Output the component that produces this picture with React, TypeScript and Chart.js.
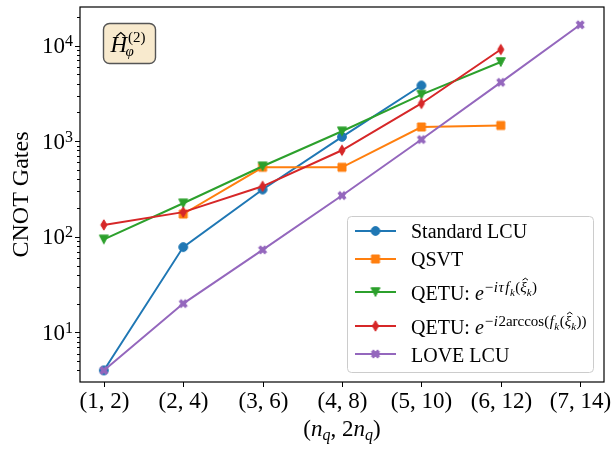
import React, { useEffect, useRef } from "react";
import { Chart, registerables } from "chart.js";

Chart.register(...registerables);

// ---------------- data ----------------
const xValues = [1, 2, 3, 4, 5, 6, 7];
const xTickLabels = ["(1, 2)", "(2, 4)", "(3, 6)", "(4, 8)", "(5, 10)", "(6, 12)", "(7, 14)"];
const yTickExponents = [1, 2, 3, 4];

const standardLCU = [4, 78, 312, 1110, 3820, null, null];
const qsvt = [null, 173, 533, 533, 1406, 1459, null];
const qetuTau = [94, 224, 546, 1268, 3062, 6730, null];
const qetuArccos = [133, 181, 337, 803, 2478, 9080, null];
const loveLCU = [4, 20, 73, 270, 1040, 4120, 16480];

const seriesLabels = [
  "Standard LCU",
  "QSVT",
  "QETU: e^{-iτ f_k(ξ̂_k)}",
  "QETU: e^{-i2arccos(f_k(ξ̂_k))}",
  "LOVE LCU",
];
const seriesColors = ["#1f77b4", "#ff7f0e", "#2ca02c", "#d62728", "#9467bd"];
const seriesMarkers = ["circle", "square", "triangleDown", "thinDiamond", "xFilled"];
const seriesValues = [standardLCU, qsvt, qetuTau, qetuArccos, loveLCU];

const FONT = '"Liberation Serif", "DejaVu Serif", serif';

type Seg = { t: string; s: number; it?: boolean; dy?: number; hat?: boolean; gap?: number };

function drawRich(ctx: CanvasRenderingContext2D, x: number, y: number, segs: Seg[]) {
  let cx = x;
  for (const g of segs) {
    cx += g.gap || 0;
    ctx.font = `${g.it ? "italic " : ""}${g.s}px ${FONT}`;
    const w = ctx.measureText(g.t).width;
    const by = y + (g.dy || 0);
    ctx.fillText(g.t, cx, by);
    if (g.hat) {
      const hx = cx + w / 2 + g.s * 0.12;
      const top = by - g.s * 0.92;
      ctx.beginPath();
      ctx.moveTo(hx - g.s * 0.18, top + g.s * 0.13);
      ctx.lineTo(hx, top);
      ctx.lineTo(hx + g.s * 0.18, top + g.s * 0.13);
      ctx.lineWidth = Math.max(0.8, g.s * 0.065);
      ctx.stroke();
    }
    cx += w;
  }
  return cx;
}

function makeMarker(kind: string, color: string): HTMLCanvasElement {
  const c = document.createElement("canvas");
  c.width = 16;
  c.height = 16;
  const g = c.getContext("2d")!;
  g.translate(8, 8);
  g.fillStyle = color;
  g.strokeStyle = color;
  g.lineWidth = 1;
  g.lineJoin = "miter";
  g.beginPath();
  if (kind === "circle") {
    g.arc(0, 0, 4.4, 0, Math.PI * 2);
  } else if (kind === "square") {
    g.rect(-4, -4, 8, 8);
  } else if (kind === "triangleDown") {
    g.moveTo(-4.5, -4.2);
    g.lineTo(4.5, -4.2);
    g.lineTo(0, 4.5);
    g.closePath();
  } else if (kind === "thinDiamond") {
    g.moveTo(0, -5.2);
    g.lineTo(3.1, 0);
    g.lineTo(0, 5.2);
    g.lineTo(-3.1, 0);
    g.closePath();
  } else {
    const s = 8.8;
    const pts = [
      [-1, -3], [1, -3], [1, -1], [3, -1], [3, 1], [1, 1],
      [1, 3], [-1, 3], [-1, 1], [-3, 1], [-3, -1], [-1, -1],
    ];
    const a = Math.PI / 4;
    pts.forEach(([px, py], i) => {
      const ux = (px / 6) * s;
      const uy = (py / 6) * s;
      const rx = ux * Math.cos(a) - uy * Math.sin(a);
      const ry = ux * Math.sin(a) + uy * Math.cos(a);
      if (i === 0) g.moveTo(rx, ry);
      else g.lineTo(rx, ry);
    });
    g.closePath();
  }
  g.fill();
  g.stroke();
  return c;
}

const SUP = 15;
const SUB = 11;
const legendRich: Seg[][] = [
  [{ t: "Standard LCU", s: 20 }],
  [{ t: "QSVT", s: 20 }],
  [
    { t: "QETU: ", s: 20 },
    { t: "e", s: 20, it: true },
    { t: "−", s: SUP, dy: -8, gap: 1 },
    { t: "i", s: SUP, it: true, dy: -8, gap: 0.5 },
    { t: "τ", s: SUP, it: true, dy: -8, gap: 0.5 },
    { t: "f", s: SUP, it: true, dy: -8, gap: 1.5 },
    { t: "k", s: SUB, it: true, dy: -4.5, gap: 0.5 },
    { t: "(", s: SUP, dy: -8, gap: 0.5 },
    { t: "ξ", s: SUP, it: true, dy: -8, hat: true },
    { t: "k", s: SUB, it: true, dy: -4.5 },
    { t: ")", s: SUP, dy: -8, gap: 0.5 },
  ],
  [
    { t: "QETU: ", s: 20 },
    { t: "e", s: 20, it: true },
    { t: "−", s: SUP, dy: -8, gap: 1 },
    { t: "i", s: SUP, it: true, dy: -8, gap: 0.5 },
    { t: "2arccos(", s: SUP, dy: -8, gap: 0.5 },
    { t: "f", s: SUP, it: true, dy: -8, gap: 0.5 },
    { t: "k", s: SUB, it: true, dy: -4.5, gap: 0.5 },
    { t: "(", s: SUP, dy: -8, gap: 0.5 },
    { t: "ξ", s: SUP, it: true, dy: -8, hat: true },
    { t: "k", s: SUB, it: true, dy: -4.5 },
    { t: "))", s: SUP, dy: -8, gap: 0.5 },
  ],
  [{ t: "LOVE LCU", s: 20 }],
];

export default function App() {
  const ref = useRef<HTMLCanvasElement | null>(null);

  useEffect(() => {
    const canvas = ref.current;
    if (!canvas) return;
    const markers = seriesMarkers.map((m, i) => makeMarker(m, seriesColors[i]));

    const datasets = seriesValues.map((vals, i) => ({
      label: seriesLabels[i],
      data: vals
        .map((v, j) => (v == null ? null : { x: xValues[j], y: v }))
        .filter((p) => p !== null) as { x: number; y: number }[],
      borderColor: seriesColors[i],
      backgroundColor: seriesColors[i],
      borderWidth: 2,
      pointStyle: markers[i] as any,
      pointRadius: 5,
      pointHoverRadius: 5,
      tension: 0,
      order: seriesValues.length - 1 - i,
    }));

    const decor = {
      id: "decor",
      afterDraw(chart: any) {
        const ctx: CanvasRenderingContext2D = chart.ctx;
        const area = chart.chartArea;
        const xs = chart.scales.x;
        const ys = chart.scales.y;
        ctx.save();
        ctx.fillStyle = "#000";
        ctx.strokeStyle = "#000";

        // frame
        ctx.lineWidth = 1.2;
        ctx.strokeRect(area.left, area.top, area.right - area.left, area.bottom - area.top);

        // y ticks
        ctx.lineWidth = 1;
        const yMinExp = Math.floor(Math.log10(ys.min));
        const yMaxExp = Math.ceil(Math.log10(ys.max));
        for (let e = yMinExp; e <= yMaxExp; e++) {
          for (let k = 1; k <= 9; k++) {
            const v = k * Math.pow(10, e);
            if (v < ys.min || v > ys.max) continue;
            const py = Math.round(ys.getPixelForValue(v)) + 0.5;
            const len = k === 1 ? 5 : 3;
            ctx.beginPath();
            ctx.moveTo(area.left - len, py);
            ctx.lineTo(area.left, py);
            ctx.stroke();
          }
        }
        // y labels
        for (const e of yTickExponents) {
          const py = ys.getPixelForValue(Math.pow(10, e));
          ctx.font = `23px ${FONT}`;
          const w1 = ctx.measureText("10").width;
          ctx.font = `16px ${FONT}`;
          const w2 = ctx.measureText(String(e)).width;
          const right = area.left - 7;
          ctx.textAlign = "left";
          ctx.textBaseline = "alphabetic";
          ctx.font = `23px ${FONT}`;
          ctx.fillText("10", right - w1 - w2, py + 7.5);
          ctx.font = `16px ${FONT}`;
          ctx.fillText(String(e), right - w2, py + 0.5);
        }

        // x ticks + labels
        ctx.textAlign = "center";
        ctx.font = `23px ${FONT}`;
        xValues.forEach((xv, i) => {
          const px = Math.round(xs.getPixelForValue(xv)) + 0.5;
          ctx.beginPath();
          ctx.moveTo(px, area.bottom);
          ctx.lineTo(px, area.bottom + 5);
          ctx.stroke();
          ctx.fillText(xTickLabels[i], px, area.bottom + 26);
        });

        // x axis title: (n_q, 2n_q)
        {
          const segs: Seg[] = [
            { t: "(", s: 23 },
            { t: "n", s: 23, it: true },
            { t: "q", s: 16, it: true, dy: 4 },
            { t: ", 2", s: 23 },
            { t: "n", s: 23, it: true },
            { t: "q", s: 16, it: true, dy: 4 },
            { t: ")", s: 23 },
          ];
          ctx.textAlign = "left";
          let w = 0;
          for (const g of segs) {
            ctx.font = `${g.it ? "italic " : ""}${g.s}px ${FONT}`;
            w += ctx.measureText(g.t).width;
          }
          const cx = (area.left + area.right) / 2;
          drawRich(ctx, cx - w / 2, area.bottom + 54, segs);
        }

        // y axis title
        ctx.save();
        ctx.translate(22, (area.top + area.bottom) / 2);
        ctx.rotate(-Math.PI / 2);
        ctx.textAlign = "center";
        ctx.textBaseline = "middle";
        ctx.font = `24px ${FONT}`;
        ctx.fillText("CNOT Gates", 0, 0);
        ctx.restore();

        // annotation box
        ctx.beginPath();
        (ctx as any).roundRect(103.5, 23.5, 52, 40, 6);
        ctx.fillStyle = "rgba(245,222,179,0.65)";
        ctx.fill();
        ctx.lineWidth = 1.4;
        ctx.strokeStyle = "#555";
        ctx.stroke();
        ctx.fillStyle = "#000";
        ctx.strokeStyle = "#000";
        ctx.textAlign = "left";
        ctx.textBaseline = "alphabetic";
        {
          ctx.font = `italic 23px ${FONT}`;
          const hx = 110.5;
          const hw = ctx.measureText("H").width;
          ctx.fillText("H", hx, 52);
          const cxh = hx + hw / 2 + 2;
          ctx.beginPath();
          ctx.moveTo(cxh - 4.5, 36.5);
          ctx.lineTo(cxh, 32.5);
          ctx.lineTo(cxh + 4.5, 36.5);
          ctx.lineWidth = 1.2;
          ctx.stroke();
          ctx.font = `italic 15px ${FONT}`;
          ctx.fillText("φ", hx + hw - 1.5, 55.5);
          ctx.font = `15px ${FONT}`;
          ctx.fillText("(2)", hx + hw + 1, 42);
        }

        // legend
        const lx = 347.5, ly = 216.5, lw = 246, lh = 156;
        ctx.beginPath();
        (ctx as any).roundRect(lx, ly, lw, lh, 4);
        ctx.fillStyle = "rgba(255,255,255,0.8)";
        ctx.fill();
        ctx.strokeStyle = "#cccccc";
        ctx.lineWidth = 1;
        ctx.stroke();
        const rowY = [231, 259, 292, 326, 354];
        const baseY = [238, 266, 300, 334, 361.5];
        seriesLabels.forEach((_, i) => {
          ctx.strokeStyle = seriesColors[i];
          ctx.lineWidth = 2;
          ctx.beginPath();
          ctx.moveTo(355, rowY[i]);
          ctx.lineTo(396, rowY[i]);
          ctx.stroke();
          ctx.drawImage(markers[i], 375.5 - 8, rowY[i] - 8);
          ctx.fillStyle = "#000";
          ctx.strokeStyle = "#000";
          drawRich(ctx, 411, baseY[i], legendRich[i]);
        });

        ctx.restore();
      },
    };

    const chart = new Chart(canvas, {
      type: "line",
      data: { datasets: datasets as any },
      options: {
        animation: false,
        responsive: false,
        maintainAspectRatio: false,
        layout: { padding: { left: 80, right: 9, top: 1, bottom: 73 } },
        scales: {
          x: { type: "linear", min: 0.7, max: 7.3, display: false },
          y: {
            type: "logarithmic",
            min: Math.pow(10, 0.481),
            max: Math.pow(10, 4.403),
            display: false,
          },
        },
        plugins: {
          legend: { display: false },
          tooltip: { enabled: false },
        },
      },
      plugins: [decor],
    });
    return () => chart.destroy();
  }, []);

  return (
    <div style={{ position: "absolute", left: 0, top: 0, width: 613, height: 455, background: "#fff" }}>
      <canvas ref={ref} width={613} height={455} style={{ width: 613, height: 455, display: "block" }} />
    </div>
  );
}
